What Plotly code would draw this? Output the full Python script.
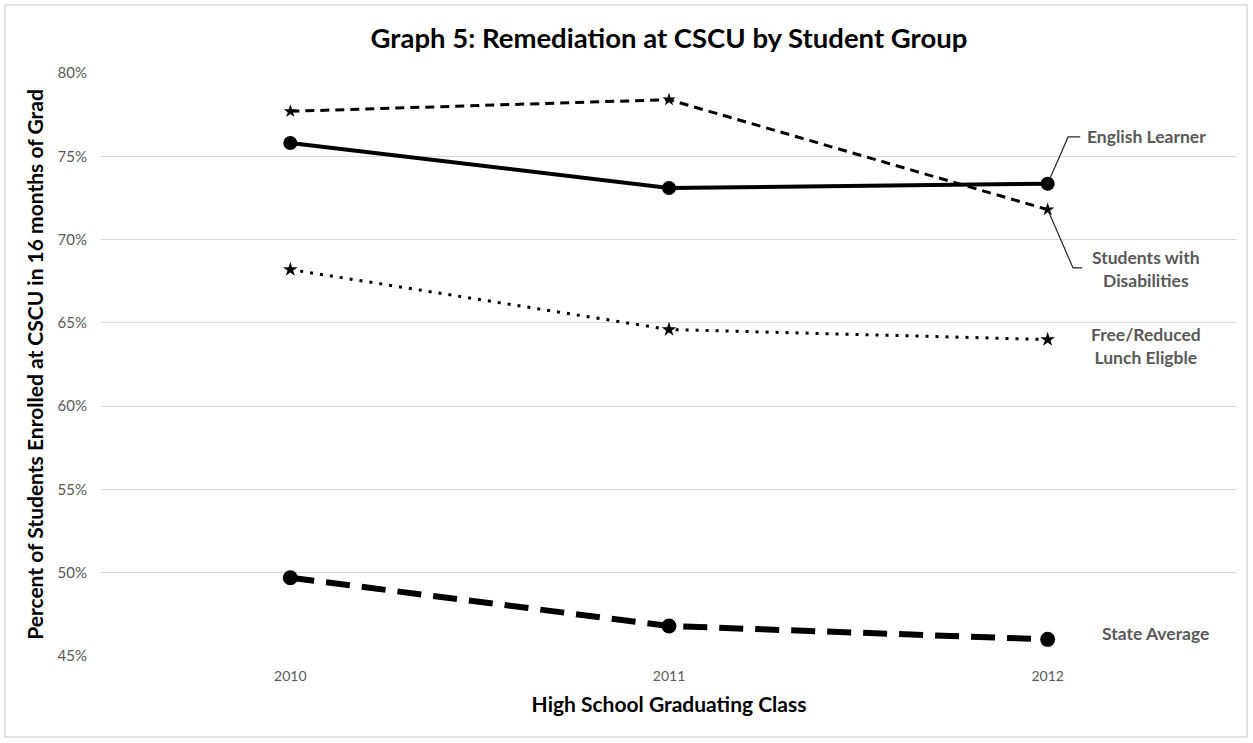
import plotly.graph_objects as go

years = [2010, 2011, 2012]
english_learner = [75.8, 73.1, 73.35]
disabilities = [77.7, 78.4, 71.8]
free_reduced = [68.2, 64.6, 64.0]
state_avg = [49.7, 46.8, 46.0]

y_ticks = [45, 50, 55, 60, 65, 70, 75, 80]
y_tick_text = [f"{v}%" for v in y_ticks]

FONT = "Lato"
fig = go.Figure()

fig.add_trace(go.Scatter(x=years, y=disabilities, mode="lines+markers",
                         line=dict(color="black", width=3, dash="9px,6px"),
                         marker=dict(size=10, color="black", symbol="star"), name="Students with Disabilities"))
fig.add_trace(go.Scatter(x=years, y=english_learner, mode="lines+markers",
                         line=dict(color="black", width=4),
                         marker=dict(size=14, color="black"), name="English Learner"))
fig.add_trace(go.Scatter(x=years, y=free_reduced, mode="lines+markers",
                         line=dict(color="black", width=3, dash="3px,7px"),
                         marker=dict(size=11, color="black", symbol="star"), name="Free/Reduced Lunch Eligble"))
fig.add_trace(go.Scatter(x=years, y=state_avg, mode="lines+markers",
                         line=dict(color="black", width=6, dash="24px,12px"),
                         marker=dict(size=15, color="black"), name="State Average"))

label_font = dict(family=FONT, size=17.5, color="#595959")
anns = [
    dict(x=2012.26, y=76.16, text="<b>English Learner</b>"),
    dict(x=2012.26, y=68.24, text="<b>Students with<br>Disabilities</b>"),
    dict(x=2012.26, y=63.6, text="<b>Free/Reduced<br>Lunch Eligble</b>"),
    dict(x=2012.285, y=46.33, text="<b>State Average</b>"),
]
for a in anns:
    fig.add_annotation(x=a["x"], y=a["y"], text=a["text"], showarrow=False,
                       xref="x", yref="y", font=label_font, align="center")

# leader lines
fig.add_shape(type="path", xref="x", yref="y",
              path=f"M {years[2]},{english_learner[2]} L 2012.054,76.16 L 2012.086,76.16",
              line=dict(color="#262626", width=1.2))
fig.add_shape(type="path", xref="x", yref="y",
              path=f"M {years[2]},{disabilities[2]} L 2012.067,68.3 L 2012.091,68.3",
              line=dict(color="#262626", width=1.2))

# outer border (paper coords computed from margins)
fig.add_shape(type="rect", xref="paper", yref="paper",
              x0=(5 - 101) / 1136, x1=(1247 - 101) / 1136,
              y0=(656 - 737) / 583, y1=(656 - 5) / 583,
              line=dict(color="#d9d9d9", width=1.5), layer="below")

fig.update_layout(
    width=1253, height=743,
    margin=dict(l=101, r=16, t=73, b=87),
    paper_bgcolor="white", plot_bgcolor="white",
    showlegend=False,
    title=dict(text="<b>Graph 5: Remediation at CSCU by Student Group</b>",
               x=0.5, xanchor="center", xref="paper", y=1 - 38 / 743, yanchor="middle",
               font=dict(family=FONT, size=27.5, color="black")),
    xaxis=dict(range=[2009.5, 2012.5], tickvals=years, ticktext=[str(y) for y in years],
               showgrid=False, zeroline=False, showline=False, ticks="",
               ticklabelstandoff=10,
               tickfont=dict(family=FONT, size=14, color="#595959"),
               title=dict(text="<b>High School Graduating Class</b>",
                          font=dict(family=FONT, size=21, color="black"), standoff=14)),
    yaxis=dict(range=[45, 80], tickvals=y_ticks, ticktext=y_tick_text,
               showgrid=True, gridcolor="#d9d9d9", gridwidth=1, zeroline=False,
               showline=False, ticks="", ticklen=0, ticklabelstandoff=13,
               tickfont=dict(family=FONT, size=15, color="#595959"),
               title=dict(text="<b>Percent of Students Enrolled at CSCU in 16 months of Grad</b>",
                          font=dict(family=FONT, size=21, color="black"), standoff=8)),
)

fig.write_html("out.html", config={"displayModeBar": False},
               post_script="document.body.style.margin='0';")
